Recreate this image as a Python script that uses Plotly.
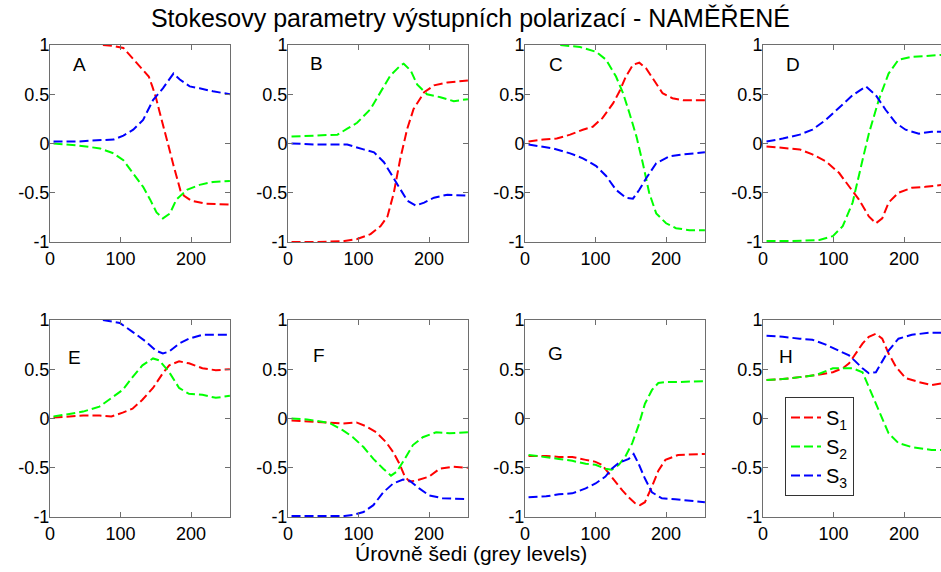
import plotly.graph_objects as go

# ---------------- data ----------------
panel_names = ["A", "B", "C", "D", "E", "F", "G", "H"]
series_names = ["S<sub>1</sub>", "S<sub>2</sub>", "S<sub>3</sub>"]
series_colors = ["#ff0000", "#00ff00", "#0000ff"]
x_ticks = [0, 100, 200]
x_tick_text = ["0", "100", "200"]
y_ticks = [-1, -0.5, 0, 0.5, 1]
y_tick_text = ["-1", "-0.5", "0", "0.5", "1"]

# Panel A
A_x1 = [75, 90, 104, 118, 132, 140, 145, 150, 155, 160, 165, 170, 175, 180, 185, 190, 200, 220, 240, 255]
A_s1 = [1.0, 0.99, 0.97, 0.86, 0.75, 0.68, 0.58, 0.47, 0.33, 0.2, 0.05, -0.08, -0.22, -0.36, -0.48, -0.53, -0.58, -0.61, -0.62, -0.62]
A_x2 = [5, 20, 40, 71, 90, 104, 118, 132, 142, 151, 160, 170, 179, 194, 212, 231, 255]
A_s2 = [0.0, -0.01, -0.02, -0.05, -0.1, -0.17, -0.3, -0.44, -0.57, -0.7, -0.76, -0.71, -0.57, -0.47, -0.42, -0.39, -0.38]
A_x3 = [5, 20, 40, 60, 90, 104, 118, 132, 146, 160, 175, 184, 198, 212, 231, 255]
A_s3 = [0.02, 0.02, 0.02, 0.03, 0.04, 0.08, 0.14, 0.24, 0.44, 0.56, 0.71, 0.65, 0.58, 0.56, 0.53, 0.5]

# Panel B
B_x1 = [5, 40, 80, 98, 117, 131, 141, 150, 159, 169, 178, 193, 207, 226, 255]
B_s1 = [-1.0, -1.0, -0.99, -0.97, -0.92, -0.84, -0.74, -0.5, -0.16, 0.15, 0.35, 0.52, 0.59, 0.62, 0.64]
B_x2 = [5, 30, 70, 84, 98, 117, 131, 145, 159, 164, 174, 183, 197, 216, 235, 255]
B_s2 = [0.07, 0.08, 0.09, 0.15, 0.21, 0.35, 0.52, 0.69, 0.79, 0.81, 0.74, 0.6, 0.5, 0.47, 0.43, 0.45]
B_x3 = [5, 40, 70, 84, 107, 122, 136, 150, 159, 169, 181, 193, 207, 226, 255]
B_s3 = [0.0, -0.01, -0.01, -0.01, -0.06, -0.09, -0.19, -0.35, -0.46, -0.58, -0.63, -0.6, -0.55, -0.52, -0.53]

# Panel C
C_x1 = [5, 26, 45, 64, 82, 96, 110, 125, 134, 143, 153, 162, 172, 186, 195, 209, 224, 255]
C_s1 = [0.02, 0.04, 0.05, 0.09, 0.14, 0.17, 0.26, 0.41, 0.53, 0.68, 0.8, 0.82, 0.76, 0.61, 0.51, 0.46, 0.44, 0.44]
C_x2 = [50, 78, 101, 115, 129, 139, 148, 158, 167, 176, 186, 200, 214, 233, 255]
C_s2 = [1.0, 0.98, 0.93, 0.85, 0.68, 0.51, 0.31, 0.07, -0.2, -0.5, -0.71, -0.81, -0.86, -0.88, -0.88]
C_x3 = [5, 40, 64, 82, 101, 115, 129, 143, 153, 162, 172, 186, 205, 224, 255]
C_s3 = [-0.01, -0.05, -0.1, -0.15, -0.23, -0.33, -0.47, -0.55, -0.56, -0.47, -0.35, -0.2, -0.13, -0.11, -0.09]

# Panel D
D_x1 = [5, 33, 52, 70, 89, 108, 122, 136, 150, 160, 169, 178, 192, 211, 230, 255]
D_s1 = [-0.03, -0.05, -0.06, -0.11, -0.18, -0.3, -0.44, -0.57, -0.74, -0.81, -0.76, -0.6, -0.5, -0.45, -0.44, -0.42]
D_x2 = [5, 40, 80, 99, 113, 127, 141, 150, 164, 178, 192, 211, 255]
D_s2 = [-0.99, -0.99, -0.98, -0.94, -0.84, -0.6, -0.17, 0.1, 0.44, 0.71, 0.85, 0.88, 0.9]
D_x3 = [5, 28, 52, 70, 89, 108, 127, 146, 160, 174, 188, 202, 221, 239, 255]
D_s3 = [0.02, 0.05, 0.09, 0.14, 0.24, 0.37, 0.49, 0.58, 0.49, 0.34, 0.21, 0.14, 0.1, 0.12, 0.12]

# Panel E
E_x1 = [5, 47, 70, 87, 103, 117, 131, 146, 160, 169, 183, 197, 216, 235, 255]
E_s1 = [0.01, 0.03, 0.03, 0.02, 0.06, 0.1, 0.19, 0.31, 0.46, 0.54, 0.58, 0.56, 0.51, 0.49, 0.5]
E_x2 = [5, 47, 70, 89, 103, 117, 131, 146, 155, 169, 183, 197, 216, 235, 255]
E_s2 = [0.02, 0.07, 0.12, 0.22, 0.29, 0.42, 0.54, 0.61, 0.59, 0.47, 0.31, 0.25, 0.24, 0.21, 0.23]
E_x3 = [75, 99, 117, 136, 150, 160, 169, 183, 197, 216, 255]
E_s3 = [1.0, 0.97, 0.88, 0.78, 0.69, 0.66, 0.68, 0.76, 0.81, 0.85, 0.85]

# Panel F
F_x1 = [5, 36, 60, 78, 97, 111, 125, 139, 149, 158, 165, 172, 182, 200, 215, 233, 255]
F_s1 = [-0.02, -0.03, -0.04, -0.05, -0.04, -0.08, -0.14, -0.24, -0.34, -0.46, -0.58, -0.64, -0.63, -0.59, -0.51, -0.49, -0.5]
F_x2 = [5, 27, 46, 60, 78, 92, 107, 121, 135, 146, 154, 163, 177, 191, 210, 229, 255]
F_s2 = [0.0, -0.01, -0.03, -0.05, -0.12, -0.19, -0.29, -0.41, -0.51, -0.58, -0.54, -0.44, -0.27, -0.19, -0.14, -0.15, -0.14]
F_x3 = [5, 40, 80, 92, 107, 121, 135, 149, 163, 172, 186, 200, 219, 255]
F_s3 = [-0.99, -0.99, -0.99, -0.98, -0.95, -0.88, -0.75, -0.66, -0.62, -0.63, -0.71, -0.78, -0.81, -0.82]

# Panel G
G_x1 = [5, 30, 48, 67, 86, 100, 109, 119, 128, 138, 147, 156, 163, 170, 180, 189, 199, 217, 255]
G_s1 = [-0.38, -0.38, -0.39, -0.39, -0.42, -0.44, -0.47, -0.56, -0.64, -0.73, -0.8, -0.86, -0.88, -0.85, -0.69, -0.53, -0.42, -0.37, -0.36]
G_x2 = [5, 30, 48, 67, 86, 100, 114, 123, 133, 142, 152, 161, 170, 180, 189, 199, 217, 255]
G_s2 = [-0.37, -0.39, -0.41, -0.43, -0.46, -0.47, -0.51, -0.52, -0.47, -0.39, -0.25, -0.07, 0.15, 0.29, 0.36, 0.37, 0.37, 0.38]
G_x3 = [5, 30, 48, 67, 86, 100, 114, 123, 133, 147, 154, 161, 170, 180, 194, 213, 255]
G_s3 = [-0.8, -0.79, -0.77, -0.76, -0.71, -0.66, -0.59, -0.51, -0.45, -0.41, -0.36, -0.46, -0.61, -0.75, -0.81, -0.82, -0.85]

# Panel H
H_x1 = [5, 28, 52, 75, 99, 113, 122, 131, 141, 150, 160, 169, 178, 188, 202, 221, 239, 255]
H_s1 = [0.39, 0.4, 0.42, 0.44, 0.47, 0.51, 0.56, 0.66, 0.76, 0.83, 0.86, 0.81, 0.66, 0.53, 0.41, 0.37, 0.34, 0.36]
H_x2 = [5, 28, 52, 75, 99, 113, 127, 141, 150, 160, 169, 178, 192, 211, 239, 255]
H_s2 = [0.39, 0.4, 0.42, 0.44, 0.51, 0.51, 0.51, 0.47, 0.32, 0.15, 0.0, -0.15, -0.25, -0.29, -0.32, -0.32]
H_x3 = [5, 28, 52, 70, 89, 108, 122, 131, 141, 150, 160, 169, 178, 192, 211, 235, 255]
H_s3 = [0.84, 0.83, 0.81, 0.8, 0.75, 0.69, 0.64, 0.58, 0.51, 0.46, 0.47, 0.58, 0.69, 0.81, 0.85, 0.87, 0.87]

panels = {
    "A": [(A_x1, A_s1), (A_x2, A_s2), (A_x3, A_s3)],
    "B": [(B_x1, B_s1), (B_x2, B_s2), (B_x3, B_s3)],
    "C": [(C_x1, C_s1), (C_x2, C_s2), (C_x3, C_s3)],
    "D": [(D_x1, D_s1), (D_x2, D_s2), (D_x3, D_s3)],
    "E": [(E_x1, E_s1), (E_x2, E_s2), (E_x3, E_s3)],
    "F": [(F_x1, F_s1), (F_x2, F_s2), (F_x3, F_s3)],
    "G": [(G_x1, G_s1), (G_x2, G_s2), (G_x3, G_s3)],
    "H": [(H_x1, H_s1), (H_x2, H_s2), (H_x3, H_s3)],
}
label_pos = {"A": (42, 0.8), "B": (41, 0.81), "C": (44, 0.8), "D": (42, 0.8),
             "E": (35, 0.62), "F": (44, 0.64), "G": (43, 0.66), "H": (33, 0.63)}

# ---------------- layout geometry ----------------
W, H = 941, 572
col_left = [50, 288, 525, 763]
plot_w = 180
row_top = [45, 320]
plot_h = 197
px_per_unit = 0.7055

FONT = "Liberation Sans, Arial, sans-serif"
AXIS_COLOR = "#6e6e6e"
fig = go.Figure()
layout = {}
for i, name in enumerate(panel_names):
    r, c = divmod(i, 4)
    idx = "" if i == 0 else str(i + 1)
    xa, ya = "xaxis" + idx, "yaxis" + idx
    xr, yr = "x" + idx, "y" + idx
    left = col_left[c]
    right = min(left + plot_w, W)
    top, bot = row_top[r], row_top[r] + plot_h
    axis_common = dict(showline=True, linecolor=AXIS_COLOR, linewidth=1, mirror="ticks",
                       ticks="inside", ticklen=5, tickcolor=AXIS_COLOR, showgrid=False,
                       zeroline=False, automargin=False,
                       tickfont=dict(family=FONT, size=18, color="#000000"))
    layout[xa] = dict(domain=[left / W, right / W], anchor=yr,
                      range=[0, (right - left) / px_per_unit],
                      tickvals=x_ticks, ticktext=x_tick_text, **axis_common)
    layout[ya] = dict(domain=[1 - bot / H, 1 - top / H], anchor=xr, range=[-1, 1],
                      tickvals=y_ticks, ticktext=y_tick_text, ticklabelstandoff=-4,
                      **axis_common)
    for k, (xs, ys) in enumerate(panels[name]):
        fig.add_trace(go.Scatter(
            x=xs, y=ys, mode="lines", xaxis=xr, yaxis=yr,
            line=dict(color=series_colors[k], width=2, dash="9px,4px"),
            name=series_names[k], showlegend=(name == "H"), legendrank=k + 1))
    lx, ly = label_pos[name]
    fig.add_annotation(x=lx, y=ly, xref=xr, yref=yr, text=name, showarrow=False,
                       xanchor="center", yanchor="middle",
                       font=dict(family=FONT, size=19, color="#000000"))

fig.add_annotation(x=0.5, y=1 - 553 / H, xref="paper", yref="paper",
                   xanchor="center", yanchor="middle",
                   text="Úrovně šedi (grey levels)", showarrow=False,
                   font=dict(family=FONT, size=21, color="#000000"))

fig.update_layout(
    template="none",
    width=W, height=H, margin=dict(l=0, r=0, t=0, b=0, pad=0),
    paper_bgcolor="white", plot_bgcolor="white",
    title=dict(text="Stokesovy parametry výstupních polarizací - NAMĚŘENÉ",
               x=0.5, xanchor="center", y=1 - 18 / H, yanchor="middle",
               font=dict(family=FONT, size=25, color="#000000")),
    legend=dict(x=785 / W, y=1 - 397 / H, xanchor="left", yanchor="top",
                bgcolor="white", bordercolor="#333333", borderwidth=1,
                font=dict(family=FONT, size=20, color="#000000"),
                traceorder="normal"),
    **layout,
)
fig.write_html("out.html")
